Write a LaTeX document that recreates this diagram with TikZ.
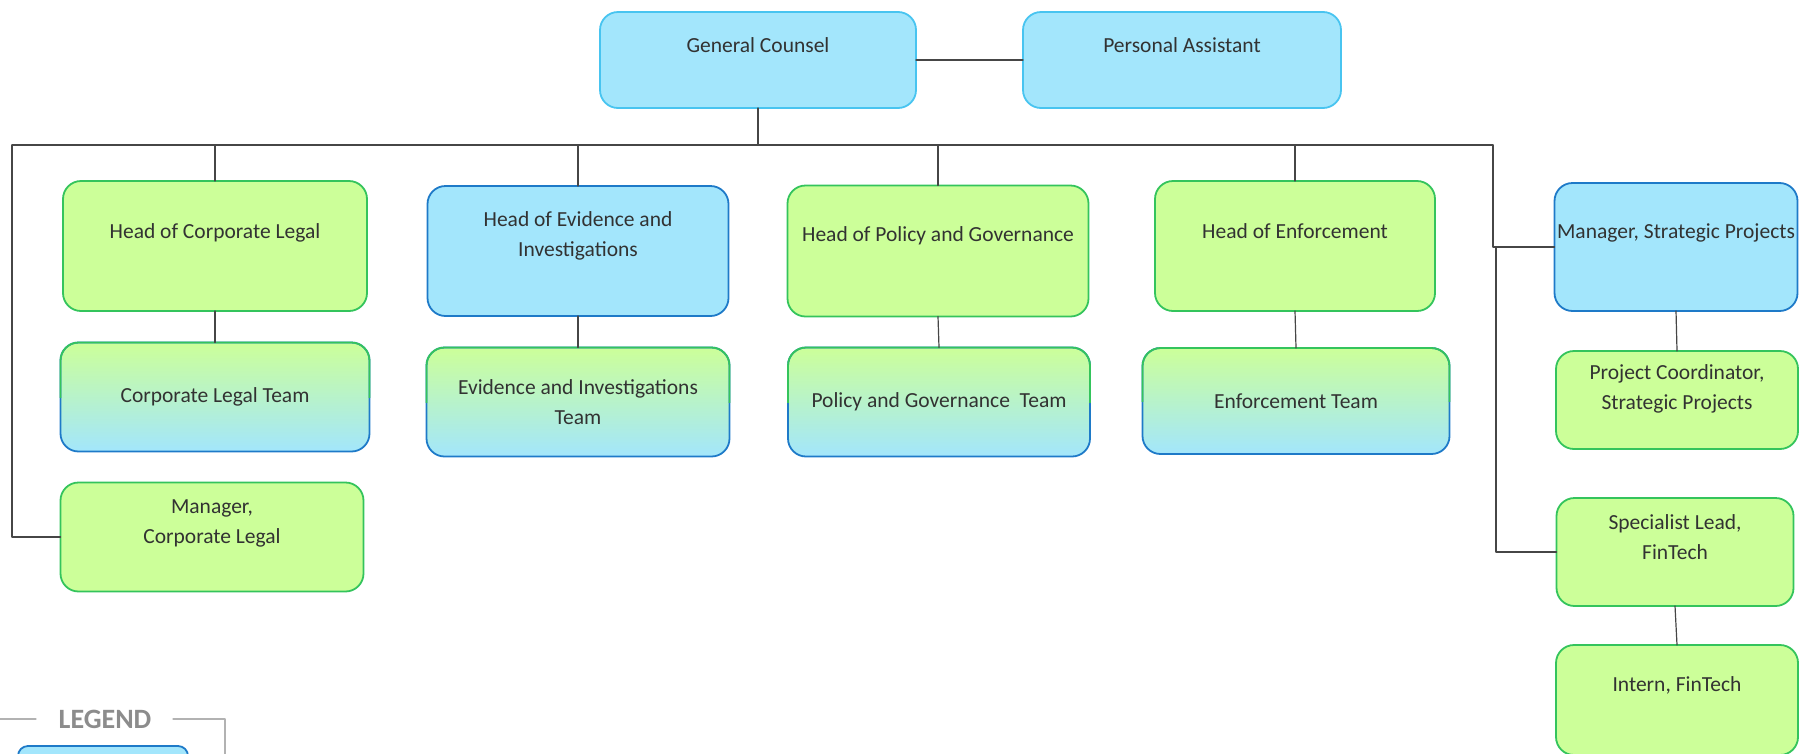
\documentclass[tikz,border=0pt]{standalone}
\usepackage{fontspec}
\setmainfont{Carlito}
\usepackage{tikz}
\usetikzlibrary{calc}

\definecolor{leaffill}{RGB}{204,255,153}
\definecolor{leafline}{RGB}{52,196,92}
\definecolor{skyfill}{RGB}{163,230,252}
\definecolor{skyline}{RGB}{30,122,200}
\definecolor{paleline}{RGB}{72,196,240}
\definecolor{inktext}{RGB}{50,50,50}
\definecolor{wirecol}{RGB}{70,70,70}
\definecolor{legendgrey}{RGB}{140,140,140}

\begin{document}
\begin{tikzpicture}[x=1pt,y=-1pt,line cap=round,line join=round,
    post/.style={rectangle,rounded corners=18pt,line width=1.8pt,outer sep=0pt,inner sep=2pt,
      font=\fontsize{21.5}{30}\selectfont,text=inktext,align=center},
    greenpost/.style={post,draw=leafline,fill=leaffill},
    bluepost/.style={post,draw=skyline,fill=skyfill},
    toppost/.style={post,draw=paleline,fill=skyfill},
    teampost/.style={post,draw=skyline,top color=leaffill,bottom color=skyfill},
    lift/.style={text depth=#1},
    wire/.style={draw=wirecol,line width=1.2pt}]
    \clip (0,0) rectangle (1819,753);

    % top row
    \node[toppost,minimum width=316,minimum height=96,lift=30] (gc) at (758,60) {General Counsel};
    \node[toppost,minimum width=318,minimum height=96,lift=30] (pa) at (1182,60) {Personal Assistant};

    % heads
    \node[greenpost,minimum width=304,minimum height=130,lift=30] (hcl) at (215,246) {Head of Corporate Legal};
    \node[bluepost,minimum width=301,minimum height=130,lift=34] (hei) at (578,251) {Head of Evidence and\\Investigations};
    \node[greenpost,minimum width=301,minimum height=131,lift=34] (hpg) at (938,251) {Head of Policy and Governance};
    \node[greenpost,minimum width=280,minimum height=130,lift=30] (hen) at (1295,246) {Head of Enforcement};
    \node[bluepost,minimum width=243,minimum height=128,lift=32] (msp) at (1676,247) {Manager, Strategic Projects};

    % teams
    \node[teampost,minimum width=309,minimum height=109] (clt) at (215,397) {Corporate Legal Team};
    \node[teampost,minimum width=303,minimum height=109] (eit) at (578,402) {Evidence and Investigations\\Team};
    \node[teampost,minimum width=302,minimum height=109] (pgt) at (939,402) {Policy and Governance\ \ Team};
    \node[teampost,minimum width=307,minimum height=106] (ent) at (1296,401) {Enforcement Team};
    \foreach \t in {clt,eit,pgt,ent}{
      \begin{scope}
        \clip ([xshift=-4pt,yshift=4pt]\t.north west) rectangle ([xshift=4pt]\t.east);
        \draw[draw=leafline,line width=1.8pt,rounded corners=18pt] (\t.north west) rectangle (\t.south east);
      \end{scope}
    }

    % others
    \node[greenpost,minimum width=303,minimum height=109,lift=30] (mcl) at (212,537) {Manager,\\Corporate Legal};
    \node[greenpost,minimum width=242,minimum height=98,lift=25] (pcsp) at (1677,400) {Project Coordinator,\\Strategic Projects};
    \node[greenpost,minimum width=237,minimum height=108,lift=30] (slf) at (1675,552) {Specialist Lead,\\FinTech};
    \node[greenpost,minimum width=242,minimum height=110,lift=32] (ift) at (1677,700) {Intern, FinTech};

    % lines
    \coordinate (busL) at (12,145);
    \coordinate (busR) at (1493,145);
    \draw[wire] (gc) -- (pa);
    \draw[wire] (gc.south) -- (gc.south |- busL);
    \draw[wire] (busL) -- (busR);
    \foreach \h in {hcl,hei,hpg,hen}
      \draw[wire] (\h.north) -- (\h.north |- busL);
    \draw[wire] (busL) |- (mcl.west);
    \draw[wire] (busR) |- (msp.west);
    \draw[wire] ([xshift=3pt]busR |- msp.west) |- (slf.west);
    \foreach \h/\t in {hcl/clt,hei/eit,hpg/pgt,hen/ent,msp/pcsp,slf/ift}
      \draw[wire] (\h.south) -- (\t.north);

    % legend
    \draw[draw=black!30,line width=1.2pt] (0,719) -- (36,719);
    \draw[draw=black!30,line width=1.2pt] (173,719) -- (225,719) -- (225,760);
    \node[font=\bfseries\fontsize{28}{30}\selectfont,text=legendgrey] (legend) at (105,719) {LEGEND};
    \node[bluepost,rounded corners=10pt,minimum width=170,minimum height=60,anchor=north west] (key) at (18,746) {};
\end{tikzpicture}
\end{document}
